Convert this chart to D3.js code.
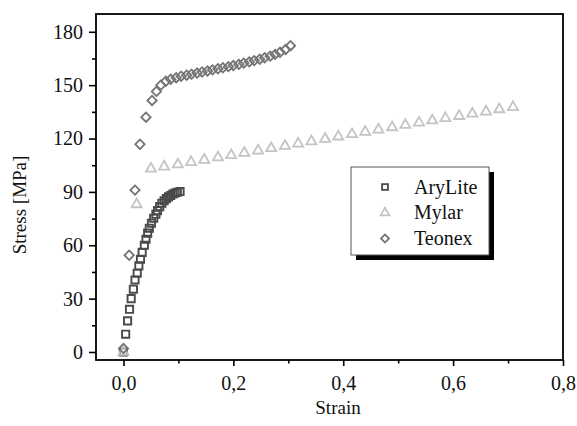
<!DOCTYPE html>
<html>
<head>
<meta charset="utf-8">
<script src="https://cdn.jsdelivr.net/npm/d3@7"></script>
<style>
  html, body { margin: 0; padding: 0; background: #fff; }
  svg { display: block; font-family: "Liberation Serif", "Times New Roman", serif; }
</style>
</head>
<body>
<svg id="chart" width="577" height="426"></svg>
<script>
// Stress–strain curves of three polymer films
const seriesNames = ["AryLite", "Mylar", "Teonex"];

const aryliteStrain = [0.000, 0.004, 0.0075, 0.011, 0.014, 0.018, 0.021, 0.025, 0.028, 0.031, 0.034, 0.038, 0.041, 0.044, 0.047, 0.051, 0.055, 0.059, 0.062, 0.066, 0.070, 0.074, 0.078, 0.082, 0.086, 0.090, 0.094, 0.098, 0.103];
const aryliteStress = [0, 10, 17.5, 24, 30, 35.3, 40.5, 44.3, 48.4, 52.1, 56, 60, 63.4, 66.8, 69.6, 72.4, 75.2, 77.4, 79.5, 81.7, 83.6, 85, 86.2, 87.2, 88, 88.8, 89.4, 89.8, 90.2];

const mylarStrain = [0.000, 0.024, 0.050, 0.074, 0.099, 0.123, 0.147, 0.172, 0.196, 0.220, 0.245, 0.269, 0.294, 0.318, 0.342, 0.367, 0.391, 0.416, 0.440, 0.464, 0.489, 0.513, 0.538, 0.562, 0.586, 0.611, 0.635, 0.660, 0.684, 0.709];
const mylarStress = [0, 83, 103.0, 104.2, 105.4, 106.7, 108.0, 109.3, 110.6, 111.9, 113.2, 114.5, 115.8, 117.1, 118.4, 119.8, 121.1, 122.4, 123.7, 125.0, 126.3, 127.6, 128.9, 130.1, 131.4, 132.6, 133.9, 135.1, 136.4, 137.6];

const teonexStrain = [0.000, 0.0104, 0.021, 0.030, 0.041, 0.052, 0.060, 0.068, 0.077, 0.086, 0.096, 0.105, 0.115, 0.124, 0.134, 0.143, 0.153, 0.162, 0.172, 0.181, 0.191, 0.200, 0.210, 0.219, 0.229, 0.238, 0.248, 0.257, 0.267, 0.276, 0.285, 0.295, 0.304];
const teonexStress = [2, 54.4, 91, 116.8, 132, 141.4, 146.5, 150, 152.2, 153.3, 154.2, 155.0, 155.6, 156.2, 156.8, 157.4, 158.0, 158.6, 159.2, 159.8, 160.4, 161.0, 161.7, 162.4, 163.1, 163.8, 164.6, 165.4, 166.3, 167.3, 168.5, 170.0, 172.2];

const xTicks = [0.0, 0.2, 0.4, 0.6, 0.8];
const xMinorTicks = [0.1, 0.3, 0.5, 0.7];
const yTicks = [0, 30, 60, 90, 120, 150, 180];
const yMinorTicks = [15, 45, 75, 105, 135, 165];

const svg = d3.select("#chart");
const frame = { left: 96, right: 563, top: 14, bottom: 360 };

const x = d3.scaleLinear().domain([-0.05, 0.8]).range([frame.left, frame.right]);
const y = d3.scaleLinear().domain([-4.5, 190]).range([frame.bottom, frame.top]);

const fmtX = d => d3.format(".1f")(d).replace(".", ",");

// Axes (outward ticks, minor ticks without labels)
const gx = svg.append("g").attr("transform", `translate(0,${frame.bottom})`)
  .call(d3.axisBottom(x).tickValues(xTicks).tickSize(6).tickPadding(10).tickFormat(fmtX));
const gxm = svg.append("g").attr("transform", `translate(0,${frame.bottom})`)
  .call(d3.axisBottom(x).tickValues(xMinorTicks).tickSize(3.5).tickFormat(""));
const gy = svg.append("g").attr("transform", `translate(${frame.left},0)`)
  .call(d3.axisLeft(y).tickValues(yTicks).tickSize(7).tickPadding(6).tickFormat(d3.format("d")));
const gym = svg.append("g").attr("transform", `translate(${frame.left},0)`)
  .call(d3.axisLeft(y).tickValues(yMinorTicks).tickSize(4).tickFormat(""));

[gx, gxm, gy, gym].forEach(g => {
  g.select(".domain").remove();
  g.selectAll(".tick line").attr("stroke", "#000").attr("stroke-width", 1.6);
  g.selectAll(".tick text").attr("fill", "#111").style("font-size", "20px")
    .style("font-family", "'Liberation Serif', 'Times New Roman', serif");
});

// Plot frame
svg.append("rect")
  .attr("x", frame.left).attr("y", frame.top)
  .attr("width", frame.right - frame.left).attr("height", frame.bottom - frame.top)
  .attr("fill", "none").attr("stroke", "#000").attr("stroke-width", 1.8);

// Axis titles
svg.append("text")
  .attr("x", 338).attr("y", 414)
  .attr("text-anchor", "middle").style("font-size", "19px").attr("fill", "#111")
  .text("Strain");
svg.append("text")
  .attr("transform", "translate(26,205) rotate(-90)")
  .attr("text-anchor", "middle").style("font-size", "19px").attr("fill", "#111")
  .text("Stress [MPa]");

// Marker styles per series
const styles = {
  AryLite: { symbol: d3.symbolSquare, size: 52, rotate: 0, color: "#4a4a4a", width: 1.9 },
  Mylar:   { symbol: d3.symbolTriangle, size: 44, rotate: 0, color: "#c4c4c4", width: 1.8 },
  Teonex:  { symbol: d3.symbolSquare, size: 44, rotate: 45, color: "#747474", width: 1.8 }
};

const seriesData = {
  AryLite: aryliteStrain.map((s, i) => ({ s, v: aryliteStress[i] })),
  Mylar: mylarStrain.map((s, i) => ({ s, v: mylarStress[i] })),
  Teonex: teonexStrain.map((s, i) => ({ s, v: teonexStress[i] }))
};

const plot = svg.append("g");
seriesNames.forEach(name => {
  const st = styles[name];
  plot.append("g").selectAll("path")
    .data(seriesData[name])
    .join("path")
    .attr("d", d3.symbol().type(st.symbol).size(st.size))
    .attr("transform", d => `translate(${x(d.s)},${y(d.v)}) rotate(${st.rotate})`)
    .attr("fill", "none")
    .attr("stroke", st.color)
    .attr("stroke-width", st.width);
});

// Legend with drop shadow
const legend = { x: 351, y: 167, w: 138, h: 88, shadow: 5 };
const lg = svg.append("g");
lg.append("rect")
  .attr("x", legend.x + legend.shadow).attr("y", legend.y + legend.shadow)
  .attr("width", legend.w).attr("height", legend.h).attr("fill", "#000");
lg.append("rect")
  .attr("x", legend.x).attr("y", legend.y)
  .attr("width", legend.w).attr("height", legend.h)
  .attr("fill", "#fff").attr("stroke", "#555").attr("stroke-width", 1);

const legendSizes = { AryLite: 34, Mylar: 34, Teonex: 32 };
seriesNames.forEach((name, i) => {
  const st = styles[name];
  const cy = legend.y + 20 + i * 25.8;
  lg.append("path")
    .attr("d", d3.symbol().type(st.symbol).size(legendSizes[name]))
    .attr("transform", `translate(${legend.x + 34},${cy}) rotate(${st.rotate})`)
    .attr("fill", "none").attr("stroke", st.color).attr("stroke-width", st.width);
  lg.append("text")
    .attr("x", legend.x + 63).attr("y", cy + 6.5)
    .style("font-size", "20px").attr("fill", "#111")
    .text(name);
});
</script>
</body>
</html>
